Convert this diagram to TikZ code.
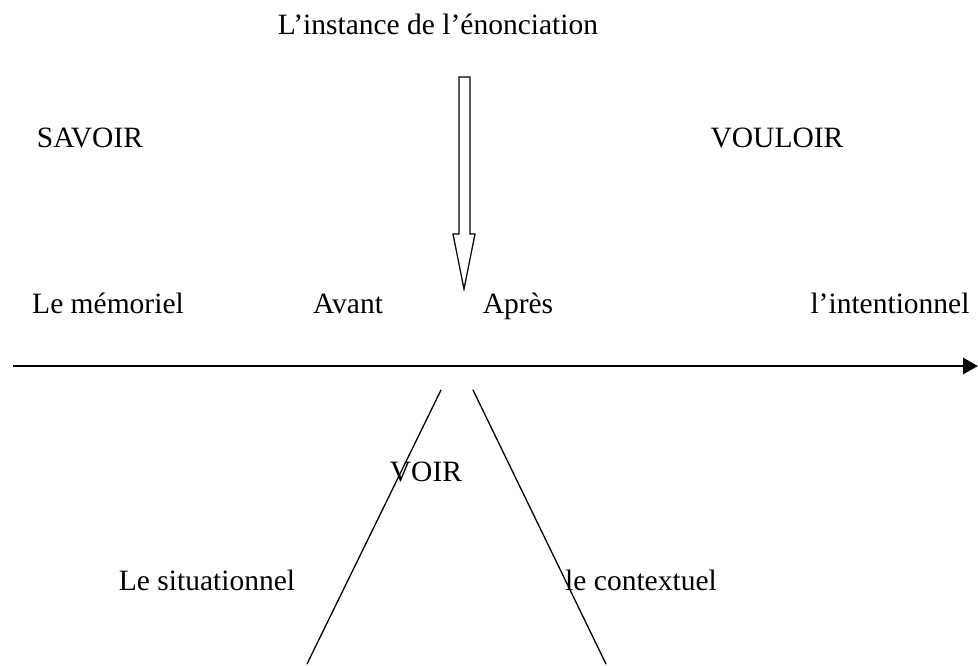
\documentclass[tikz,border=0pt]{standalone}
\usepackage{fontspec}
\setmainfont{Liberation Serif}
\usetikzlibrary{arrows.meta}
\begin{document}
\begin{tikzpicture}[x=1pt,y=-1pt,
  lbl/.style={anchor=base,inner sep=0pt,font=\fontsize{29.5}{35}\selectfont},
  thinline/.style={line width=1.3pt,line cap=round},
  axisline/.style={line width=2.8pt,-{Triangle[length=15pt,width=16pt]}}]
\useasboundingbox (0,0) rectangle (978,666);

% labels
\node[lbl] (inst) at (438,35) {L’instance de l’énonciation};
\node[lbl] (savoir) at (90,148) {SAVOIR};
\node[lbl] (vouloir) at (777,148) {VOULOIR};
\node[lbl] (memo) at (108,313) {Le mémoriel};
\node[lbl] (avant) at (348,313) {Avant};
\node[lbl] (apres) at (518,313) {Après};
\node[lbl] (intent) at (890,313) {l’intentionnel};
\node[lbl] (voir) at (426,481) {VOIR};
\node[lbl] (situ) at (207,590) {Le situationnel};
\node[lbl] (conte) at (641,590) {le contextuel};

% time axis
\coordinate (axisL) at (13,366);
\coordinate (axisR) at (978,366);
\draw[axisline] (axisL) -- (axisR);

% hollow block arrow from the top
\draw[line width=1.2pt,fill=white,line join=miter]
  (459,77) -- (470,77) -- (470,234) -- (475,234) -- (464,289)
  -- (453,234) -- (459,234) -- cycle;

% the two diverging lines below the axis
\coordinate (vLt) at (441,390);
\coordinate (vLb) at (307,664);
\coordinate (vRt) at (473,390);
\coordinate (vRb) at (606,664);
\draw[thinline] (vLt) -- (vLb);
\draw[thinline] (vRt) -- (vRb);
\end{tikzpicture}
\end{document}
